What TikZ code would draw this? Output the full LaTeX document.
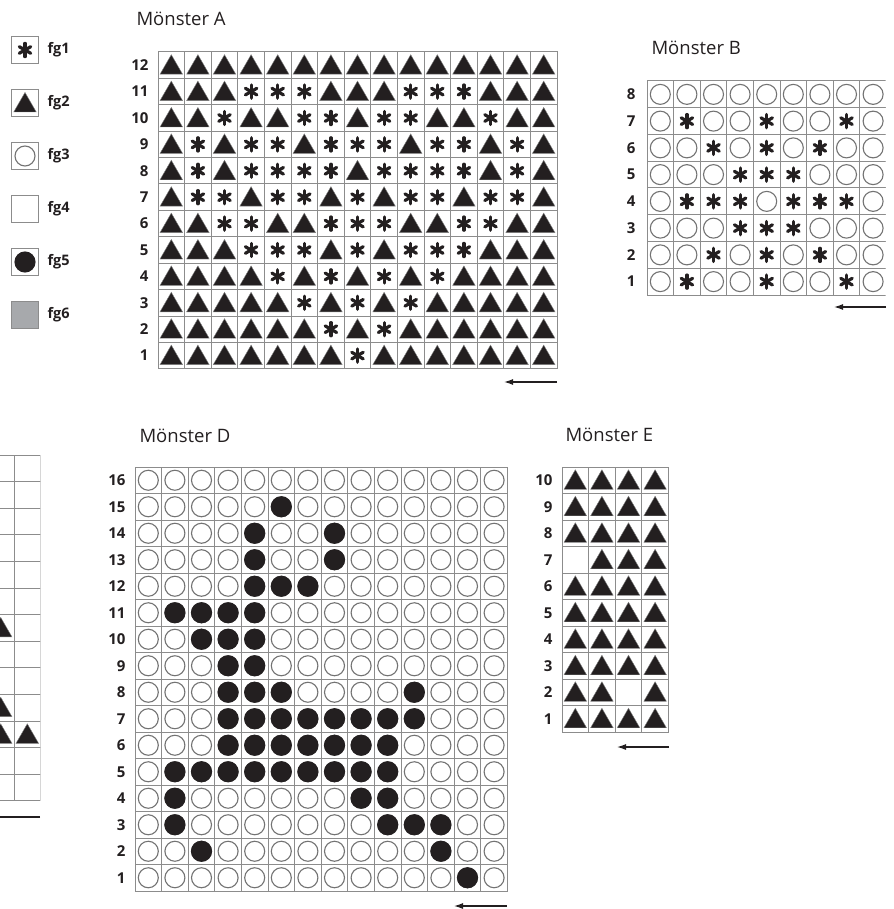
\documentclass[tikz,border=0pt]{standalone}
\usepackage{fontspec}
\setmainfont{Open Sans}
\usetikzlibrary{arrows.meta,shapes.geometric}

\definecolor{gridgray}{gray}{0.55}
\definecolor{ringgray}{gray}{0.45}
\definecolor{inkblack}{HTML}{231F20}
\definecolor{fgsix}{HTML}{A7A9AC}

\begin{document}
\begin{tikzpicture}[
    x=1pt, y=-1pt,
    cell/.style={
      rectangle, draw=gridgray, line width=1pt, fill=white,
      minimum width=26.6pt, minimum height=26.5pt, inner sep=0pt
    },
    ring/.style={circle, draw=ringgray, line width=1.1pt, minimum size=20pt, inner sep=0pt},
    dot/.style={circle, draw=inkblack, fill=inkblack, line width=1.1pt, minimum size=20pt, inner sep=0pt},
    tri/.style={
      regular polygon, regular polygon sides=3, minimum size=26pt, inner sep=0pt,
      fill=inkblack, draw=gray, line width=0.4pt, yshift=-2.5pt
    },
    ast/.style={
      circle, minimum size=18pt, inner sep=0pt,
      path picture={
        \foreach \a in {90,30,150}
          \draw[inkblack, line width=3.2pt, line cap=round]
            (path picture bounding box.center) ++(\a:6.6) -- ++({\a+180}:13.2);
      }
    },
    void/.style={inner sep=0pt},
    rownum/.style={anchor=east, text=inkblack, font=\bfseries\fontsize{15}{15}\selectfont},
    title/.style={anchor=base west, text=inkblack, font=\fontsize{18.5}{18.5}\selectfont},
    key/.style={anchor=west, text=inkblack, font=\bfseries\fontsize{14.5}{14.5}\selectfont},
    arrow/.style={-{Latex[length=9pt, width=6pt]}, line width=1.2pt, inkblack}
  ]
  \useasboundingbox (0,0) rectangle (893,909);

  % legend
  \foreach \s/\f [count=\i] in {ast/white, tri/white, ring/white, void/white, dot/white, void/fgsix} {
    \node[cell, fill=\f, minimum width=27pt, minimum height=27pt] (key-\i) at (25, {50+53*(\i-1)}) {};
    \node[\s] (key-\i-s) at (key-\i) {};
    \node[key] (key-\i-t) at ([xshift=5pt]key-\i.east) {fg\i};
  }

  % Mönster A
  \node[title] (titleA) at (133, 26) {Mönster A};
  \foreach \row [count=\r] in {
      {tri,tri,tri,tri,tri,tri,tri,tri,tri,tri,tri,tri,tri,tri,tri},
      {tri,tri,tri,ast,ast,ast,tri,tri,tri,ast,ast,ast,tri,tri,tri},
      {tri,tri,ast,tri,tri,ast,ast,tri,ast,ast,tri,tri,ast,tri,tri},
      {tri,ast,tri,ast,ast,tri,ast,ast,ast,tri,ast,ast,tri,ast,tri},
      {tri,ast,tri,ast,ast,ast,ast,tri,ast,ast,ast,ast,tri,ast,tri},
      {tri,ast,ast,tri,ast,ast,tri,ast,tri,ast,ast,tri,ast,ast,tri},
      {tri,tri,ast,ast,tri,tri,ast,ast,ast,tri,tri,ast,ast,tri,tri},
      {tri,tri,tri,ast,ast,ast,tri,ast,tri,ast,ast,ast,tri,tri,tri},
      {tri,tri,tri,tri,ast,tri,ast,tri,ast,tri,ast,tri,tri,tri,tri},
      {tri,tri,tri,tri,tri,ast,tri,ast,tri,ast,tri,tri,tri,tri,tri},
      {tri,tri,tri,tri,tri,tri,ast,tri,ast,tri,tri,tri,tri,tri,tri},
      {tri,tri,tri,tri,tri,tri,tri,ast,tri,tri,tri,tri,tri,tri,tri}} {
    \pgfmathtruncatemacro{\n}{13-\r}
    \node[rownum] (A-lab-\r) at (152, {52+26.4*(\r-0.5)}) {\n};
    \foreach \s [count=\c] in \row {
      \node[cell, minimum height=26.4pt] (A-\r-\c) at ({158+26.6*(\c-0.5)}, {52+26.4*(\r-0.5)}) {};
      \node[\s] (A-\r-\c-s) at (A-\r-\c) {};
    }
  }
  \coordinate (A-arr-from) at (557, 382);
  \coordinate (A-arr-to) at (504, 382);
  \draw[arrow] (A-arr-from) -- (A-arr-to);

  % Mönster B (cut at the right edge)
  \node[title] (titleB) at (648, 55) {Mönster B};
  \begin{scope}
    \clip (600, 70) rectangle (885.6, 300);
    \foreach \row [count=\r] in {
        {ring,ring,ring,ring,ring,ring,ring,ring,ring},
        {ring,ast,ring,ring,ast,ring,ring,ast,ring},
        {ring,ring,ast,ring,ast,ring,ast,ring,ring},
        {ring,ring,ring,ast,ast,ast,ring,ring,ring},
        {ring,ast,ast,ast,ring,ast,ast,ast,ring},
        {ring,ring,ring,ast,ast,ast,ring,ring,ring},
        {ring,ring,ast,ring,ast,ring,ast,ring,ring},
        {ring,ast,ring,ring,ast,ring,ring,ast,ring}} {
      \foreach \s [count=\c] in \row {
        \node[cell, minimum height=26.75pt] (B-\r-\c) at ({647+26.6*(\c-0.5)}, {81+26.75*(\r-0.5)}) {};
        \node[\s] (B-\r-\c-s) at (B-\r-\c) {};
      }
    }
  \end{scope}
  \foreach \r in {1,...,8} {
    \pgfmathtruncatemacro{\n}{9-\r}
    \node[rownum] (B-lab-\r) at (639, {81+26.75*(\r-0.5)}) {\n};
  }
  \coordinate (B-arr-from) at (886, 307);
  \coordinate (B-arr-to) at (834, 307);
  \draw[arrow] (B-arr-from) -- (B-arr-to);

  % chart cut at the left edge
  \begin{scope}
    \clip (0, 440) rectangle (40.3, 830);
    \foreach \row [count=\r] in {
        {void,void},{void,void},{void,void},{void,void},{void,void},{void,void},
        {tri,void},{void,void},{void,void},{tri,void},{tri,tri},{void,void},{void,void}} {
      \foreach \s [count=\c] in \row {
        \node[cell, minimum height=26.6pt] (C-\r-\c) at ({-12.6+26.6*(\c-0.5)}, {455+26.6*(\r-0.5)}) {};
        \node[\s] (C-\r-\c-s) at (C-\r-\c) {};
      }
    }
    \coordinate (C-arr-from) at (40, 817);
    \coordinate (C-arr-to) at (-12, 817);
    \draw[arrow] (C-arr-from) -- (C-arr-to);
  \end{scope}

  % Mönster D
  \node[title] (titleD) at (136, 442) {Mönster D};
  \foreach \r in {1,...,16} {
    \pgfmathtruncatemacro{\n}{17-\r}
    \node[rownum] (D-lab-\r) at (129, {467+26.5*(\r-0.5)}) {\n};
    \foreach \c in {1,...,14} {
      \node[cell] (D-\r-\c) at ({135+26.6*(\c-0.5)}, {467+26.5*(\r-0.5)}) {};
      \node[ring] (D-\r-\c-s) at (D-\r-\c) {};
    }
  }
  \foreach \r/\cols in {2/{6}, 3/{5,8}, 4/{5,8}, 5/{5,6,7}, 6/{2,3,4,5}, 7/{3,4,5},
      8/{4,5}, 9/{4,5,6,11}, 10/{4,...,11}, 11/{4,...,10}, 12/{2,...,10},
      13/{2,9,10}, 14/{2,10,11,12}, 15/{3,12}, 16/{13}} {
    \foreach \c in \cols
      \node[dot] (D-\r-\c-d) at (D-\r-\c) {};
  }
  \coordinate (D-arr-from) at (507, 906);
  \coordinate (D-arr-to) at (454, 906);
  \draw[arrow] (D-arr-from) -- (D-arr-to);

  % Mönster E
  \node[title] (titleE) at (562, 441) {Mönster E};
  \foreach \row [count=\r] in {
      {tri,tri,tri,tri},{tri,tri,tri,tri},{tri,tri,tri,tri},{void,tri,tri,tri},
      {tri,tri,tri,tri},{tri,tri,tri,tri},{tri,tri,tri,tri},{tri,tri,tri,tri},
      {tri,tri,void,tri},{tri,tri,tri,tri}} {
    \pgfmathtruncatemacro{\n}{11-\r}
    \node[rownum] (E-lab-\r) at (556, {467+26.5*(\r-0.5)}) {\n};
    \foreach \s [count=\c] in \row {
      \node[cell] (E-\r-\c) at ({562+26.6*(\c-0.5)}, {467+26.5*(\r-0.5)}) {};
      \node[\s] (E-\r-\c-s) at (E-\r-\c) {};
    }
  }
  \coordinate (E-arr-from) at (669, 747);
  \coordinate (E-arr-to) at (617, 747);
  \draw[arrow] (E-arr-from) -- (E-arr-to);
\end{tikzpicture}
\end{document}
